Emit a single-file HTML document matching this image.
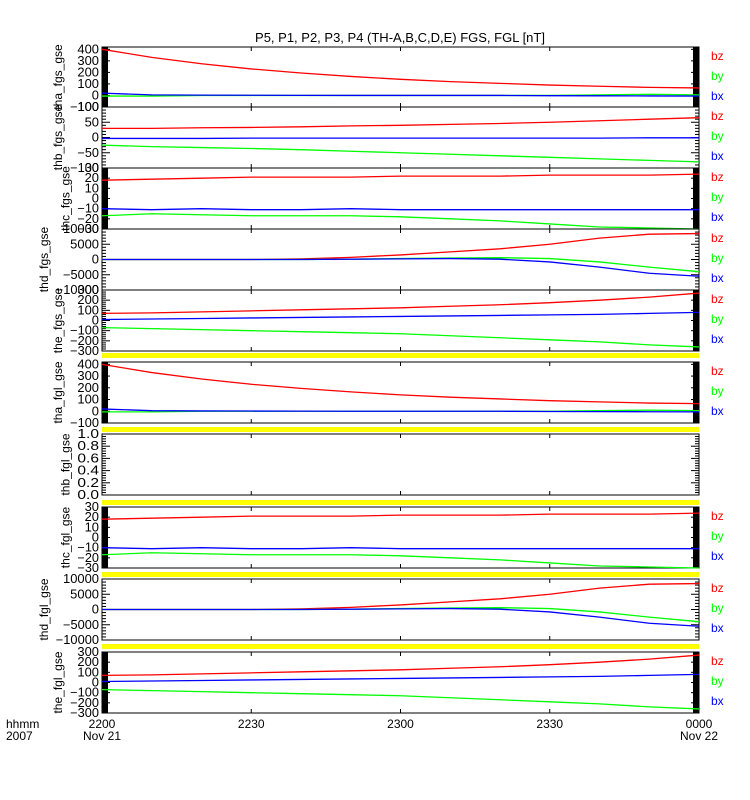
<!DOCTYPE html>
<html><head><meta charset="utf-8"><style>
body{margin:0;background:#fff}
svg{display:block;font-family:"Liberation Sans",sans-serif}
</style></head><body>
<svg id="c" width="750" height="800" xmlns="http://www.w3.org/2000/svg"></svg>
<script>
const times=[0,5,10,15,20,25,30,35,40,45,50,55,60];
const panelNames=["tha_fgs_gse","thb_fgs_gse","thc_fgs_gse","thd_fgs_gse","the_fgs_gse","tha_fgl_gse","thb_fgl_gse","thc_fgl_gse","thd_fgl_gse","the_fgl_gse"];
const panelTops=[47,107,168,229,290,362,434,507,579,652];
const panelBottoms=[107,168,229,290,351,423,495,568,640,713];
const yMins=[-100,-100,-30,-10000,-300,-100,0,-30,-10000,-300];
const yMaxs=[420,100,30,10000,300,420,1,30,10000,300];
const yTickLabels=[[400,300,200,100,0,-100],[100,50,0,-50,-100],[30,20,10,0,-10,-20,-30],[10000,5000,0,-5000,-10000],[300,200,100,0,-100,-200,-300],[400,300,200,100,0,-100],["1.0","0.8","0.6","0.4","0.2","0.0"],[30,20,10,0,-10,-20,-30],[10000,5000,0,-5000,-10000],[300,200,100,0,-100,-200,-300]];
const bzA=[400,330,275,230,195,165,140,120,105,90,80,70,65];
const byA=[-5,-5,0,0,0,0,0,0,0,0,5,10,5];
const bxA=[20,5,3,2,1,0,0,0,0,-2,-3,-4,-5];
const bzB=[30,30,32,33,35,38,40,43,46,50,55,60,65];
const byB=[-25,-30,-33,-36,-40,-45,-50,-55,-60,-65,-70,-75,-80];
const bxB=[-3,-3,-3,-2,-2,-2,-2,-2,-2,-2,-2,-1,-1];
const bzC=[18,19,20,21,21,21,22,22,22,23,23,23,24];
const byC=[-17,-15,-16,-17,-17,-17,-18,-20,-22,-25,-28,-29,-30];
const bxC=[-10,-11,-10,-11,-11,-10,-11,-11,-11,-11,-11,-11,-11];
const bzD=[0,0,0,0,200,700,1500,2500,3500,5000,7000,8300,8500];
const byD=[0,0,0,0,0,100,300,500,600,300,-800,-2500,-4000];
const bxD=[0,0,0,0,0,100,200,300,100,-800,-2500,-4500,-5500];
const bzE=[70,75,85,95,105,115,125,140,155,175,200,230,270];
const byE=[-70,-80,-90,-100,-110,-120,-130,-150,-170,-190,-210,-240,-260];
const bxE=[10,15,20,25,30,35,40,45,50,55,60,70,80];
const series=[[bzA,byA,bxA],[bzB,byB,bxB],[bzC,byC,bxC],[bzD,byD,bxD],[bzE,byE,bxE],[bzA,byA,bxA],null,[bzC,byC,bxC],[bzD,byD,bxD],[bzE,byE,bxE]];
const xTickLabels=["2200","2230","2300","2330","0000"];
const xTickMinutes=[0,15,30,45,60];
const leftBlack=[1,0,1,0,0,1,0,1,0,1];
const rightBlack=[1,0,1,0,1,1,0,1,0,1];
const colors=["#ff0000","#00ff00","#0000ff"];
const legendText=["bz","by","bx"];
const X0=102,X1=699;
const svg=document.getElementById('c');
const NS="http://www.w3.org/2000/svg";
function xs(t){return X0+(X1-X0)*t/60;}
function mk(tag,attrs,parent){const e=document.createElementNS(NS,tag);for(const k in attrs)e.setAttribute(k,attrs[k]);(parent||svg).appendChild(e);return e;}
let t=mk('text',{x:400,y:42,'text-anchor':'middle','font-size':13});t.textContent="P5, P1, P2, P3, P4 (TH-A,B,C,D,E) FGS, FGL [nT]";


[353,427,500,572,644].forEach((y,i)=>{const r=mk('rect',{x:X0,y:y,width:X1-X0,height:5,fill:'#ffff00'});

});
for(let p=0;p<10;p++){
  const top=panelTops[p],bot=panelBottoms[p],mn=yMins[p],mx=yMaxs[p];
  const ys=v=>bot-(bot-top)*(v-mn)/(mx-mn);
  const g=mk('g',{});
  
  
  if(leftBlack[p])mk('rect',{x:X0,y:top,width:6,height:bot-top,fill:'#000'},g);
  if(rightBlack[p])mk('rect',{x:X1-6,y:top,width:6,height:bot-top,fill:'#000'},g);
  mk('rect',{x:X0,y:top,width:X1-X0,height:bot-top,fill:'none',stroke:'#000','stroke-width':1},g);
  xTickMinutes.forEach(m=>{const x=xs(m);mk('line',{x1:x,y1:top,x2:x,y2:top+4,stroke:'#000'},g);mk('line',{x1:x,y1:bot,x2:x,y2:bot-4,stroke:'#000'},g);});
  const labs=yTickLabels[p];const n=labs.length;
  let maxLen=0;
  for(let i=0;i<n;i++){
    const v=parseFloat(labs[i]);const y=ys(v);
    mk('line',{x1:X0,y1:y,x2:X0+8,y2:y,stroke:'#000'},g);
    mk('line',{x1:X1,y1:y,x2:X1-8,y2:y,stroke:'#000'},g);
    const str=String(labs[i]).replace('-','\u2212');
    maxLen=Math.max(maxLen,str.length);
    const tx=mk('text',{x:X0-3,y:y+4,'text-anchor':'end','font-size':12.5,'textLength':str.length*7.2,'lengthAdjust':'spacingAndGlyphs'},g);tx.textContent=str;
    
    
    if(i<n-1){const v2=parseFloat(labs[i+1]);for(let k=1;k<5;k++){const yy=ys(v+(v2-v)*k/5);
      mk('line',{x1:X0,y1:yy,x2:X0+4,y2:yy,stroke:'#000'},g);mk('line',{x1:X1,y1:yy,x2:X1-4,y2:yy,stroke:'#000'},g);}}
  }
  const tx0=X0-5-maxLen*7.2-6;
  const yl=mk('text',{transform:`translate(${tx0},${(top+bot)/2}) rotate(-90)`,'text-anchor':'middle','font-size':12},g);yl.textContent=panelNames[p];
  
  
  const s=series[p];
  if(s){
    s.forEach((arr,si)=>{
      let d='';
      for(let i=0;i<arr.length;i++){const x=xs(times[i]);const y=ys(arr[i]);d+=(i===0?'M':' L')+x+','+y;}
      const pth=mk('path',{d:d,fill:'none',stroke:colors[si],'stroke-width':1.3},g);
      
      
    });
    legendText.forEach((l,li)=>{const lt=mk('text',{x:711,y:top+13+li*20,'font-size':12,fill:colors[li]},g);lt.textContent=l;
      
      });
  }
}
xTickMinutes.forEach((m,i)=>{const tx=mk('text',{x:xs(m),y:728,'text-anchor':'middle','font-size':12});tx.textContent=xTickLabels[i];
  
  });
[["Nov 21",0],["Nov 22",60]].forEach(a=>{const tx=mk('text',{x:xs(a[1]),y:740,'text-anchor':'middle','font-size':12});tx.textContent=a[0];
  
  });
let h=mk('text',{x:6,y:728,'font-size':12});h.textContent="hhmm";


let yr=mk('text',{x:6,y:740,'font-size':12});yr.textContent="2007";


</script>
</body></html>
